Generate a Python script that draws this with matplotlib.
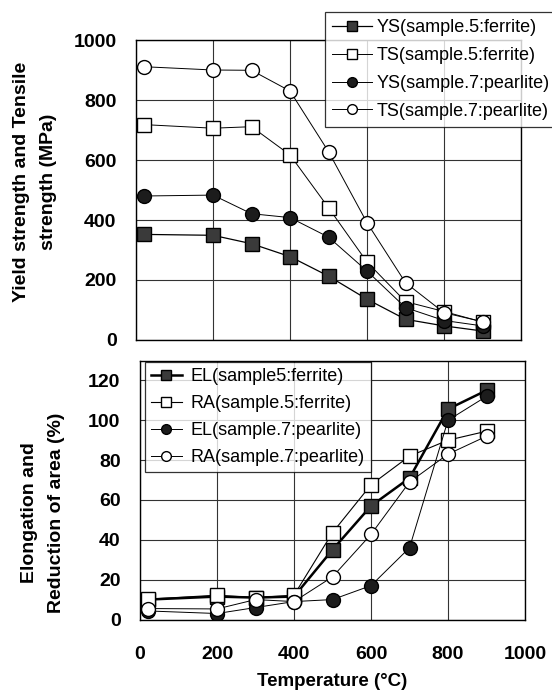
"Two-panel chart: strength, elongation and reduction of area vs temperature."

import matplotlib
matplotlib.use("Agg")
from matplotlib import pyplot as plt

plt.rcParams['font.family'] = ['Liberation Sans', 'DejaVu Sans']

# ---------------------------------------------------------------------------
# Data
# ---------------------------------------------------------------------------
temps = [20, 200, 300, 400, 500, 600, 700, 800, 900]

ys_ferrite = [352, 349, 321, 278, 213, 136, 69, 47, 30]
ts_ferrite = [718, 706, 711, 617, 441, 260, 128, 95, 60]
ys_pearlite = [480, 483, 421, 408, 343, 230, 108, 65, 47]
ts_pearlite = [911, 900, 899, 830, 628, 391, 191, 91, 61]

el_ferrite = [10, 11.5, 11, 11.5, 35, 57, 71, 105.6, 115]
ra_ferrite = [10.2, 12.2, 11, 12.2, 43.6, 67.6, 82, 90, 94.5]
el_pearlite = [4.3, 3, 6, 9, 10, 17, 36, 100, 112]
ra_pearlite = [5.5, 5.3, 10, 9, 21.4, 42.7, 69, 83, 92]

top_labels = ["YS(sample.5:ferrite)", "TS(sample.5:ferrite)",
              "YS(sample.7:pearlite)", "TS(sample.7:pearlite)"]
bottom_labels = ["EL(sample5:ferrite)", "RA(sample.5:ferrite)",
                 "EL(sample.7:pearlite)", "RA(sample.7:pearlite)"]

# ---------------------------------------------------------------------------
# Styles
# ---------------------------------------------------------------------------
SQ_FILL = "#3a3a3a"
CI_FILL = "#1c1c1c"
MS = 9.5
H = 698.0
W = 552.0


def style_axes(ax):
    ax.grid(True, color="#333333", linewidth=0.8)
    ax.set_axisbelow(True)
    ax.tick_params(length=0, pad=14, labelsize=14)
    for lab in ax.get_xticklabels() + ax.get_yticklabels():
        lab.set_fontweight("bold")
    for sp in ax.spines.values():
        sp.set_linewidth(1.0)


fig = plt.figure(figsize=(5.52, 6.98), dpi=100)

# ---------------------------------------------------------------------------
# Top panel
# ---------------------------------------------------------------------------
ax1 = fig.add_axes([136 / W, 1 - 340 / H, 385 / W, 300 / H])
ax1.plot(temps, ys_ferrite, color="black", lw=0.9, marker="s", ms=MS,
         mfc=SQ_FILL, mec="black", label=top_labels[0])
ax1.plot(temps, ts_ferrite, color="black", lw=0.7, marker="s", ms=MS,
         mfc="white", mec="black", label=top_labels[1])
ax1.plot(temps, ys_pearlite, color="black", lw=0.7, marker="o", ms=MS + 0.5,
         mfc=CI_FILL, mec="black", label=top_labels[2])
ax1.plot(temps, ts_pearlite, color="black", lw=0.7, marker="o", ms=MS + 0.5,
         mfc="white", mec="black", label=top_labels[3])
ax1.set_xlim(0, 1000)
ax1.set_ylim(0, 1000)
ax1.set_xticks(range(0, 1001, 200))
ax1.set_yticks(range(0, 1001, 200))
ax1.set_xticklabels([])
style_axes(ax1)

leg1 = fig.legend(loc="upper left", bbox_to_anchor=(325 / W, 1 - 12 / H),
                  frameon=True, fancybox=False, fontsize=13, markerscale=0.7,
                  handlelength=2.2, handletextpad=0.25, labelspacing=0.6,
                  borderpad=0.4, borderaxespad=0)
leg1.get_frame().set_edgecolor("black")
leg1.get_frame().set_linewidth(0.9)

fig.text(35 / W, 1 - 182 / H, "Yield strength and Tensile\nstrength (MPa)",
         rotation=90, ha="center", va="center", fontsize=14,
         fontweight="bold", linespacing=1.7)

# ---------------------------------------------------------------------------
# Bottom panel
# ---------------------------------------------------------------------------
ax2 = fig.add_axes([140 / W, 1 - 619.5 / H, 385 / W, 259 / H])
ax2.plot(temps, el_ferrite, color="black", lw=1.8, marker="s", ms=MS,
         mfc=SQ_FILL, mec="black", label=bottom_labels[0])
ax2.plot(temps, ra_ferrite, color="black", lw=0.8, marker="s", ms=MS,
         mfc="white", mec="black", label=bottom_labels[1])
ax2.plot(temps, el_pearlite, color="black", lw=0.7, marker="o", ms=MS + 0.5,
         mfc=CI_FILL, mec="black", label=bottom_labels[2])
ax2.plot(temps, ra_pearlite, color="black", lw=0.7, marker="o", ms=MS + 0.5,
         mfc="white", mec="black", label=bottom_labels[3])
ax2.set_xlim(0, 1000)
ax2.set_ylim(0, 130)
ax2.set_xticks(range(0, 1001, 200))
ax2.set_yticks(range(0, 121, 20))
style_axes(ax2)
ax2.tick_params(axis="x", pad=19)

leg2 = ax2.legend(loc="upper left", bbox_to_anchor=(0.012, 0.995),
                  frameon=True, fancybox=False, fontsize=13, markerscale=0.7,
                  handlelength=1.7, handletextpad=0.5, labelspacing=0.55,
                  borderpad=0.35, borderaxespad=0)
leg2.get_frame().set_edgecolor("black")
leg2.get_frame().set_linewidth(0.9)

fig.text(43 / W, 1 - 513 / H, "Elongation and\nReduction of area (%)",
         rotation=90, ha="center", va="center", fontsize=14,
         fontweight="bold", linespacing=1.7)

fig.text(332 / W, 1 - 681 / H, "Temperature (°C)", ha="center",
         va="center", fontsize=13.5, fontweight="bold")

fig.savefig("out.png", dpi=100)
